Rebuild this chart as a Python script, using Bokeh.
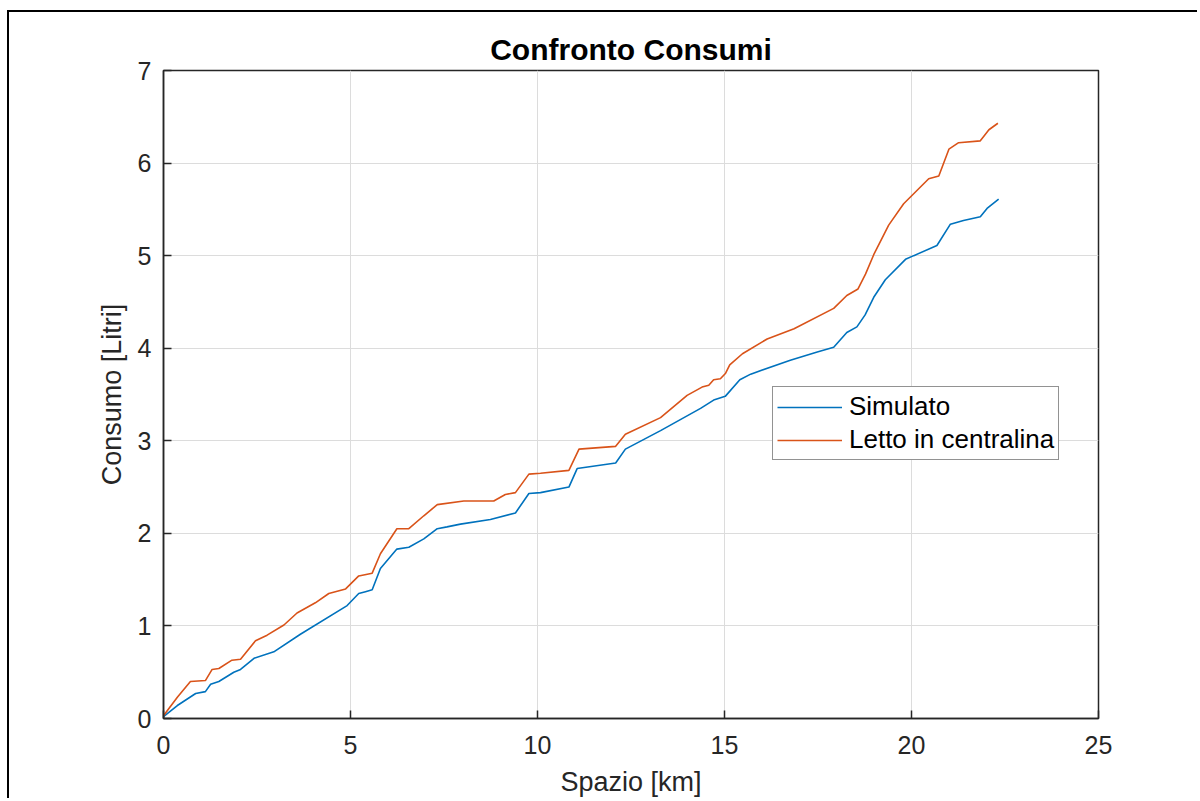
from bokeh.plotting import figure
from bokeh.models import Range1d, FixedTicker, Legend, LegendItem
from bokeh.embed import file_html
from bokeh.resources import INLINE

# --- data ---
sim_km = [0.0, 0.37, 0.86, 1.12, 1.26, 1.48, 1.88, 2.06, 2.42, 2.95, 3.66, 4.91,
          5.22, 5.40, 5.58, 5.80, 6.24, 6.56, 6.96, 7.32, 7.58, 7.94, 8.74, 9.41,
          9.77, 10.08, 10.84, 11.06, 12.09, 12.35, 13.29, 14.36, 14.71, 15.02,
          15.41, 15.70, 16.76, 17.48, 17.92, 18.27, 18.54, 18.76, 18.99, 19.30,
          19.84, 20.06, 20.68, 21.04, 21.39, 21.84, 22.02, 22.33]
sim_l = [0.02, 0.14, 0.27, 0.29, 0.37, 0.40, 0.50, 0.53, 0.65, 0.72, 0.91, 1.22,
         1.35, 1.37, 1.39, 1.62, 1.83, 1.85, 1.94, 2.05, 2.07, 2.10, 2.15, 2.22,
         2.43, 2.44, 2.50, 2.70, 2.76, 2.91, 3.11, 3.35, 3.44, 3.48,
         3.66, 3.72, 3.87, 3.96, 4.01, 4.17, 4.23, 4.36, 4.55, 4.74,
         4.96, 5.00, 5.11, 5.34, 5.38, 5.42, 5.51, 5.61]

ecu_km = [0.0, 0.37, 0.72, 1.12, 1.30, 1.48, 1.83, 2.06, 2.46, 2.77, 3.22, 3.57,
          4.06, 4.42, 4.87, 5.22, 5.58, 5.80, 6.24, 6.56, 6.96, 7.32, 8.03, 8.83,
          9.14, 9.41, 9.77, 10.08, 10.84, 11.11, 12.09, 12.35, 13.29, 14.00,
          14.40, 14.58, 14.71, 14.89, 15.03, 15.14, 15.48, 16.14, 16.86, 17.92,
          18.27, 18.57, 18.77, 18.99, 19.39, 19.79, 20.46, 20.73, 21.00, 21.26,
          21.84, 22.07, 22.31]
ecu_l = [0.03, 0.23, 0.40, 0.41, 0.53, 0.54, 0.63, 0.64, 0.84, 0.90, 1.01, 1.14,
         1.25, 1.35, 1.40, 1.54, 1.57, 1.78, 2.05, 2.05, 2.19, 2.31, 2.35, 2.35,
         2.42, 2.44, 2.64, 2.65, 2.68, 2.91, 2.94, 3.07, 3.25, 3.49,
         3.58, 3.60, 3.66, 3.67, 3.73, 3.82, 3.94, 4.10, 4.21, 4.43,
         4.57, 4.64, 4.80, 5.01, 5.33, 5.56, 5.83, 5.86, 6.15, 6.22,
         6.24, 6.36, 6.43]

x_ticks = [0, 5, 10, 15, 20, 25]
y_ticks = [0, 1, 2, 3, 4, 5, 6, 7]

FONT = "Liberation Sans"
TXT = "#262626"

p = figure(width=1190, height=788, x_range=Range1d(0, 25), y_range=Range1d(0, 7),
           output_backend="svg", toolbar_location=None,
           min_border_left=154, min_border_right=101, min_border_top=58,
           min_border_bottom=82)
p.styles = {"border-left": "2px solid black", "border-top": "2px solid black",
            "margin-left": "7px", "margin-top": "10px"}

p.title.text = "Confronto Consumi"
p.title.align = "center"
p.title.text_font = FONT
p.title.text_font_size = "30px"
p.title.text_font_style = "bold"
p.title.text_color = "#000000"
p.title.offset = -8

p.background_fill_color = "white"
p.border_fill_color = "white"
p.outline_line_color = TXT
p.outline_line_width = 1.5

for ax in (p.xaxis, p.yaxis):
    ax.axis_line_color = TXT
    ax.axis_line_width = 1.5
    ax.major_tick_line_color = TXT
    ax.major_tick_line_width = 1.5
    ax.major_tick_in = 8
    ax.major_tick_out = 0
    ax.minor_tick_line_color = None
    ax.major_label_text_font = FONT
    ax.major_label_text_font_size = "25px"
    ax.major_label_text_color = TXT
    ax.axis_label_text_font = FONT
    ax.axis_label_text_font_size = "27px"
    ax.axis_label_text_font_style = "normal"
    ax.axis_label_text_color = TXT

p.xaxis.ticker = FixedTicker(ticks=x_ticks)
p.yaxis.ticker = FixedTicker(ticks=y_ticks)
p.xaxis.axis_label = "Spazio [km]"
p.yaxis.axis_label = "Consumo [Litri]"
p.xaxis.major_label_standoff = 17
p.yaxis.major_label_standoff = 12
p.xaxis.axis_label_standoff = 10
p.yaxis.axis_label_standoff = 8

p.xgrid.grid_line_color = "#dcdcdc"
p.ygrid.grid_line_color = "#dcdcdc"
p.xgrid.grid_line_width = 1
p.ygrid.grid_line_width = 1

r1 = p.line(sim_km, sim_l, line_color="#0072BD", line_width=1.6)
r2 = p.line(ecu_km, ecu_l, line_color="#D95319", line_width=1.6)

legend = Legend(items=[LegendItem(label="Simulato", renderers=[r1]),
                       LegendItem(label="Letto in centralina", renderers=[r2])],
                location=(609, 258))
legend.label_text_font = FONT
legend.label_text_font_size = "26px"
legend.label_text_color = "#000000"
legend.border_line_color = TXT
legend.border_line_width = 1.2
legend.background_fill_color = "white"
legend.background_fill_alpha = 1.0
legend.glyph_width = 65
legend.glyph_height = 26
legend.label_height = 26
legend.label_standoff = 7
legend.padding = 4
legend.spacing = 2
legend.margin = 0
p.add_layout(legend, "center")

open("out.html", "w").write(file_html(p, INLINE))
